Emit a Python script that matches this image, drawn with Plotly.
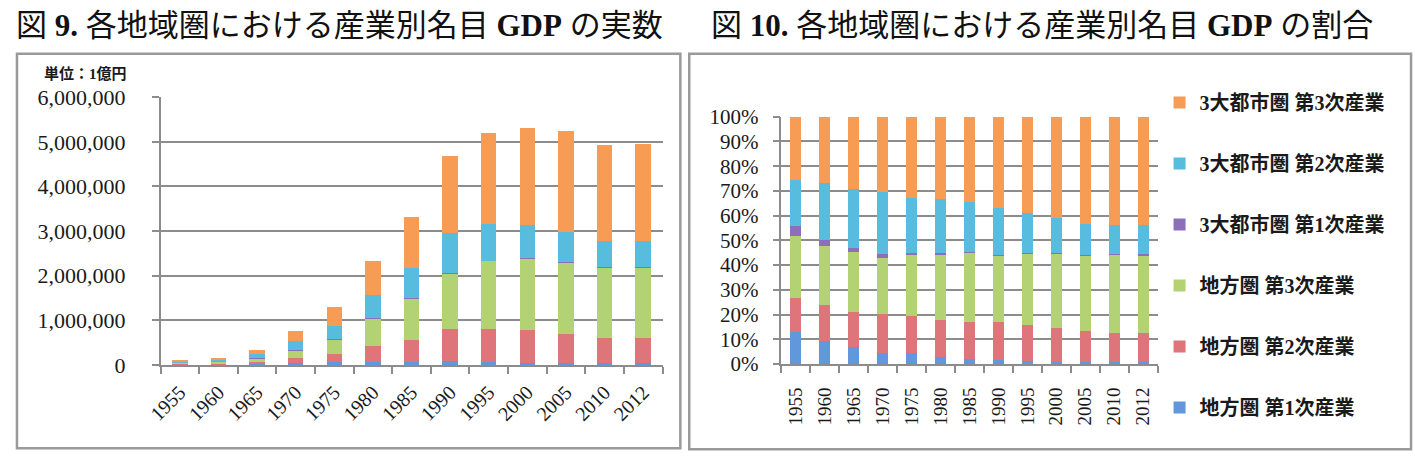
import plotly.graph_objects as go
import numpy as np

W, H = 1415, 466

years = ["1955", "1960", "1965", "1970", "1975", "1980", "1985",
         "1990", "1995", "2000", "2005", "2010", "2012"]

series_names = ["地方圏 第1次産業", "地方圏 第2次産業", "地方圏 第3次産業",
                "3大都市圏 第1次産業", "3大都市圏 第2次産業", "3大都市圏 第3次産業"]

# 名目GDP (単位：1億円)
local_primary = [12400, 14700, 22800, 34200, 58500, 65500, 72800,
                 79600, 57100, 47800, 41900, 39400, 39700]
local_secondary = [13100, 23500, 47900, 118600, 195000, 353300, 496500,
                   716000, 757700, 732800, 649800, 571900, 575400]
local_tertiary = [23700, 38400, 81100, 174000, 323700, 620100, 923500,
                  1258900, 1515500, 1603600, 1603400, 1572700, 1572300]
metro_primary = [4000, 3800, 5400, 10600, 9100, 16400, 9900,
                 9400, 10400, 10600, 10500, 9900, 9900]
metro_secondary = [17700, 37000, 80400, 191500, 284700, 505400, 671900,
                   884500, 825200, 748700, 670700, 576800, 590200]
metro_tertiary = [24200, 42600, 97500, 231000, 429000, 779200, 1135300,
                  1731600, 2024100, 2166500, 2263700, 2159300, 2172500]

series_values = [local_primary, local_secondary, local_tertiary,
                 metro_primary, metro_secondary, metro_tertiary]
colors = ["#6197DB", "#DE757B", "#B2D274", "#8B6FBA", "#58BCDF", "#F79C54"]

y_ticks_left = [0, 1000000, 2000000, 3000000, 4000000, 5000000, 6000000]
y_ticks_right = list(range(0, 101, 10))
y_ticktext_right = [f"{v}%" for v in y_ticks_right]

totals = np.sum(np.array(series_values, dtype=float), axis=0)

SERIF = "Liberation Serif, Noto Sans CJK JP, serif"
TXT = "#1a1a1a"
GRID = "#8c8c8c"

fig = go.Figure()

for name, vals, col in zip(series_names, series_values, colors):
    fig.add_trace(go.Bar(
        x=years, y=vals, name=name, marker=dict(color=col, line=dict(width=0)),
        xaxis="x", yaxis="y", showlegend=False, width=0.4))

n = len(series_names)
for i, (name, vals, col) in enumerate(zip(series_names, series_values, colors)):
    share = np.array(vals, dtype=float) / totals * 100
    fig.add_trace(go.Bar(
        x=years, y=share, name=name, marker=dict(color=col, line=dict(width=0)),
        xaxis="x2", yaxis="y2", showlegend=True, width=0.38,
        legendgroup=name, legendrank=1000 + (n - i)))

def fx(x):
    return x / W

def fy(y):
    return 1 - y / H

axis_common = dict(showline=True, linecolor=GRID, linewidth=1.5,
                   ticks="outside", tickcolor=GRID, ticklen=7, tickwidth=1.5)

fig.update_layout(
    width=W, height=H,
    margin=dict(l=0, r=0, t=0, b=0),
    paper_bgcolor="white", plot_bgcolor="white",
    barmode="stack", bargap=0.6,
    font=dict(family=SERIF, color=TXT),
    xaxis=dict(domain=[fx(148), fx(655)], type="category", anchor="y",
               tickson="boundaries", tickangle=-45, ticklabelstandoff=6,
               tickfont=dict(family=SERIF, size=20, color=TXT), **axis_common),
    yaxis=dict(domain=[fy(373), fy(90)], range=[0, 6000000], anchor="x",
               tickvals=y_ticks_left, tickformat=",d", showgrid=True,
               gridcolor=GRID, gridwidth=1.5, ticklabelstandoff=22,
               zeroline=False, tickfont=dict(family=SERIF, size=22, color=TXT), **axis_common),
    xaxis2=dict(domain=[fx(775), fx(1155)], type="category", anchor="y2",
                tickson="boundaries", tickangle=-90, ticklabelstandoff=14,
                tickfont=dict(family=SERIF, size=19, color=TXT), **axis_common),
    yaxis2=dict(domain=[fy(372), fy(110.7)], range=[0, 100], anchor="x2",
                tickvals=y_ticks_right, ticktext=y_ticktext_right, showgrid=True,
                gridcolor=GRID, gridwidth=1.5, ticklabelstandoff=10,
                zeroline=False, tickfont=dict(family=SERIF, size=21, color=TXT), **axis_common),
    legend=dict(x=fx(1157), y=fy(75), xanchor="left", yanchor="top",
                traceorder="grouped", tracegroupgap=32,
                font=dict(family=SERIF, size=20, color=TXT, weight="bold"),
                bgcolor="rgba(0,0,0,0)", itemclick=False),
    showlegend=True,
)

fig.add_annotation(x=0, y=fy(14), xref="paper", yref="paper", xanchor="left", yanchor="middle",
                   text="図 <b>9.</b> 各地域圏における産業別名目 <b>GDP</b> の実数",
                   showarrow=False, font=dict(family=SERIF, size=31, color="#111"))
fig.add_annotation(x=fx(702), y=fy(14), xref="paper", yref="paper", xanchor="left", yanchor="middle",
                   text="図 <b>10.</b> 各地域圏における産業別名目 <b>GDP</b> の割合",
                   showarrow=False, font=dict(family=SERIF, size=31, color="#111"))
fig.add_annotation(x=fx(28), y=fy(65), xref="paper", yref="paper", xanchor="left", yanchor="middle",
                   text="<b>単位：1億円</b>", showarrow=False,
                   font=dict(family=SERIF, size=15, color=TXT))

fig.add_shape(type="rect", xref="paper", yref="paper",
              x0=fx(3), x1=fx(673), y0=fy(461), y1=fy(44),
              line=dict(color="#9a9a9a", width=2.5))
fig.add_shape(type="rect", xref="paper", yref="paper",
              x0=fx(682), x1=fx(1411), y0=fy(462), y1=fy(44),
              line=dict(color="#9a9a9a", width=2.5))

fig.write_html("out.html")
